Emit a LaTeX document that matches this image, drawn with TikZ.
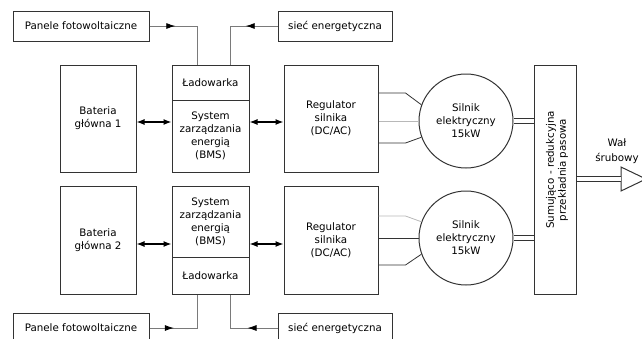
\documentclass[tikz,border=0pt]{standalone}
\usepackage{fontspec}
\setmainfont{DejaVu Sans}
\usetikzlibrary{arrows.meta,decorations.markings}
\definecolor{edgegray}{HTML}{333333}
\definecolor{wiregray}{HTML}{7A7A7A}
\definecolor{palegray}{HTML}{B8B8B8}

\begin{document}
\begin{tikzpicture}[x=1pt,y=-1pt,
  box/.style={draw=edgegray,line width=1pt,inner sep=0pt,align=center,text=black,font=\fontsize{10.3}{13}\selectfont},
  wire/.style={draw=wiregray,line width=0.8pt},
  duplex/.style={line width=1.2pt,{Latex[length=8pt,width=6pt]}-{Latex[length=8pt,width=6pt]}},
  midarrow/.style={postaction={decorate},decoration={markings,mark=at position #1 with {\arrow[black]{Latex[length=9pt,width=6pt]}}}},
  shaft/.style={draw=edgegray,line width=0.8pt,double=white,double distance=4.5pt}]
\useasboundingbox (0,0) rectangle (642,338);
\clip (0,0) rectangle (642,338);

% zrodla energii
\node[box,minimum width=136pt,minimum height=30pt] (pv1) at (81,26) {Panele fotowoltaiczne};
\node[box,minimum width=114pt,minimum height=30pt] (grid1) at (335,26) {sieć energetyczna};
\node[box,minimum width=136pt,minimum height=30pt] (pv2) at (81,328) {Panele fotowoltaiczne};
\node[box,minimum width=114pt,minimum height=30pt] (grid2) at (335,328) {sieć energetyczna};

% tor 1
\node[box,minimum width=76pt,minimum height=107pt] (bat1) at (98,118.5) {Bateria\\główna 1};
\node[box,minimum width=77pt,minimum height=35pt] (lad1) at (210.5,82.5) {Ładowarka};
\node[box,minimum width=77pt,minimum height=72pt] (bms1) at (210.5,136) {System\\zarządzania\\energią\\(BMS)};
\node[box,minimum width=94pt,minimum height=107pt] (reg1) at (331,118.5) {Regulator\\silnika\\(DC/AC)};
\node[box,circle,minimum size=94pt] (mot1) at (466,121) {Silnik\\elektryczny\\15kW};

% tor 2
\node[box,minimum width=76pt,minimum height=108pt] (bat2) at (98,240) {Bateria\\główna 2};
\node[box,minimum width=77pt,minimum height=71pt] (bms2) at (210.5,221.5) {System\\zarządzania\\energią\\(BMS)};
\node[box,minimum width=77pt,minimum height=37pt] (lad2) at (210.5,275.5) {Ładowarka};
\node[box,minimum width=94pt,minimum height=108pt] (reg2) at (331,240) {Regulator\\silnika\\(DC/AC)};
\node[box,circle,minimum size=94pt] (mot2) at (466,238) {Silnik\\elektryczny\\15kW};

% przekladnia i wal
\node[box,minimum width=42pt,minimum height=229pt] (gear) at (555,179.5) {};
\node[rotate=90,align=center,text=black,font=\fontsize{10.3}{12}\selectfont] (geartxt) at (557,170) {Sumująco - redukcyjna\\przekładnia pasowa};
\coordinate (tip) at (621,179);
\draw[draw=edgegray,line width=1pt] (tip) ++(0,-12) -- ++(25,12) -- ++(-25,12) -- cycle;
\node[align=center,text=black,font=\fontsize{10.3}{13}\selectfont] (shaftlbl) at (617,151) {Wał\\[2pt]śrubowy};

% ladowanie
\draw[wire,midarrow=0.3] (pv1.east) -| ([xshift=-13.5pt]lad1.north);
\draw[wire,midarrow=0.37] (grid1.west) -| ([xshift=19.5pt]lad1.north);
\draw[wire,midarrow=0.3] (pv2.east) -| ([xshift=-13.5pt]lad2.south);
\draw[wire,midarrow=0.37] (grid2.west) -| ([xshift=19.5pt]lad2.south);

% szyny DC
\coordinate (bus1) at (0,122);
\coordinate (bus2) at (0,244);
\draw[duplex] (bus1 -| bat1.east) -- (bus1 -| bms1.west);
\draw[duplex] (bus1 -| bms1.east) -- (bus1 -| reg1.west);
\draw[duplex] (bus2 -| bat2.east) -- (bus2 -| bms2.west);
\draw[duplex] (bus2 -| bms2.east) -- (bus2 -| reg2.west);

% fazy silnikow
\draw[wire,draw=edgegray] ([yshift=25.5pt]reg1.east) -- ++(27,0) -- (mot1.160);
\draw[wire,draw=palegray] (reg1.east |- mot1.west) -- (mot1.west);
\draw[wire,draw=edgegray] ([yshift=-24.5pt]reg1.east) -- ++(27,0) -- (mot1.200);
\draw[wire,draw=palegray] ([yshift=24pt]reg2.east) -- ++(27,0) -- (mot2.160);
\draw[wire,draw=edgegray] (reg2.east |- mot2.west) -- (mot2.west);
\draw[wire,draw=edgegray] ([yshift=-25pt]reg2.east) -- ++(27,0) -- (mot2.200);

% walki
\draw[shaft] (mot1.east) -- (mot1.east -| gear.west);
\draw[shaft] (mot2.east) -- (mot2.east -| gear.west);
\draw[shaft] (gear.east |- tip) -- (tip);
\end{tikzpicture}
\end{document}
